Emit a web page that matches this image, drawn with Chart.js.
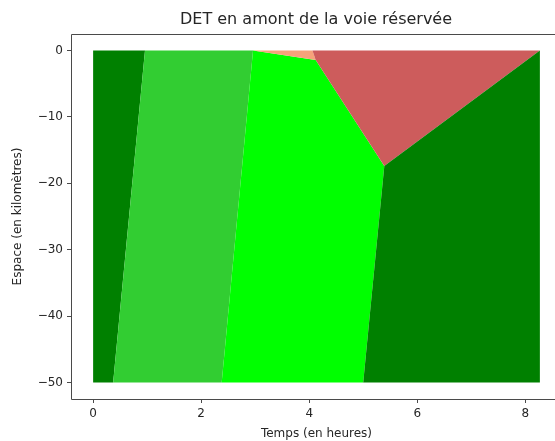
<!DOCTYPE html>
<html>
<head>
<meta charset="utf-8">
<script src="https://cdn.jsdelivr.net/npm/chart.js@4/dist/chart.umd.min.js"></script>
<style>
  html, body { margin: 0; padding: 0; background: #fff; overflow: hidden; }
  #wrap { position: relative; width: 632px; height: 441px; }
</style>
</head>
<body>
<div id="wrap"><canvas id="chart"></canvas></div>
<script>
// tick values
const xTicks = [0, 2, 4, 6, 8];
const yTicks = [0, -10, -20, -30, -40, -50];

// polygons of the diagram (temps in hours, espace in km)
const leftGreenX = [0, 0.96, 0.37, 0];
const leftGreenY = [0, 0, -50, -50];
const limeGreenX = [0.96, 2.96, 2.38, 0.37];
const limeGreenY = [0, 0, -50, -50];
const limeX = [2.96, 4.12, 5.39, 5.0, 2.38];
const limeY = [0, -1.4, -17.4, -50, -50];
const salmonX = [2.96, 4.06, 4.12];
const salmonY = [0, 0, -1.4];
const redX = [4.06, 8.27, 5.39, 4.12];
const redY = [0, 0, -17.4, -1.4];
const rightGreenX = [5.39, 8.27, 8.27, 5.0];
const rightGreenY = [-17.4, 0, -50, -50];

const toPoints = (xs, ys) => xs.map((x, i) => ({ x: x, y: ys[i] }));

const frameColor = "#4a4a4a";
const textColor = "#262626";

function region(xs, ys, color) {
  return {
    data: toPoints(xs, ys),
    backgroundColor: color,
    borderWidth: 0,
    pointRadius: 0,
    showLine: false,
  };
}

// fill each dataset as a closed polygon, using the points placed by the scales
const polygonFill = {
  id: "polygonFill",
  beforeDatasetsDraw(chart) {
    const ctx = chart.ctx;
    const area = chart.chartArea;
    ctx.save();
    ctx.beginPath();
    ctx.rect(area.left, area.top, area.right - area.left, area.bottom - area.top);
    ctx.clip();
    chart.data.datasets.forEach((ds, i) => {
      const pts = chart.getDatasetMeta(i).data;
      ctx.beginPath();
      pts.forEach((p, j) => {
        if (j == 0) ctx.moveTo(p.x, p.y);
        else ctx.lineTo(p.x, p.y);
      });
      ctx.closePath();
      ctx.fillStyle = ds.backgroundColor;
      ctx.fill();
    });
    ctx.restore();
  },
};

// spines: top, left, bottom (the right one falls outside the crop)
const frame = {
  id: "frame",
  afterDraw(chart) {
    const ctx = chart.ctx;
    const a = chart.chartArea;
    const l = Math.round(a.left) + 0.5;
    const t = Math.round(a.top) + 0.5;
    const b = Math.round(a.bottom) + 0.5;
    ctx.save();
    ctx.strokeStyle = frameColor;
    ctx.lineWidth = 1;
    ctx.beginPath();
    ctx.moveTo(a.right, t);
    ctx.lineTo(l, t);
    ctx.lineTo(l, b);
    ctx.lineTo(a.right, b);
    ctx.stroke();
    ctx.restore();
  },
};

const font = { family: "DejaVu Sans", size: 12 };

new Chart(document.getElementById("chart"), {
  type: "line",
  data: {
    datasets: [
      region(leftGreenX, leftGreenY, "#008000"),
      region(limeGreenX, limeGreenY, "#32CD32"),
      region(limeX, limeY, "#00FF00"),
      region(salmonX, salmonY, "#F7A27A"),
      region(redX, redY, "#CD5C5C"),
      region(rightGreenX, rightGreenY, "#008000"),
    ],
  },
  options: {
    responsive: true,
    maintainAspectRatio: false,
    animation: false,
    layout: { padding: 0 },
    plugins: {
      legend: { display: false },
      tooltip: { enabled: false },
      title: {
        display: true,
        text: "DET en amont de la voie réservée",
        color: textColor,
        font: { family: "DejaVu Sans", size: 16, weight: "normal" },
        padding: { top: 10.4, bottom: 4.4 },
      },
    },
    scales: {
      x: {
        type: "linear",
        min: -0.41,
        max: 8.68,
        afterBuildTicks: (s) => { s.ticks = xTicks.map((v) => ({ value: v })); },
        afterFit: (s) => { s.height = 42; },
        grid: { drawOnChartArea: false, drawTicks: true, tickLength: 4, color: frameColor },
        border: { display: false },
        ticks: { color: textColor, font: font, padding: 4, maxRotation: 0 },
        title: {
          display: true,
          text: "Temps (en heures)",
          color: textColor,
          font: font,
          padding: { top: 0, bottom: 0 },
        },
      },
      y: {
        type: "linear",
        min: -52.5,
        max: 2.5,
        afterBuildTicks: (s) => { s.ticks = yTicks.map((v) => ({ value: v })); },
        afterFit: (s) => { s.width = 71; },
        grid: { drawOnChartArea: false, drawTicks: true, tickLength: 4, color: frameColor },
        border: { display: false },
        ticks: {
          color: textColor,
          font: font,
          padding: 4,
          callback: (v) => String(v).replace("-", "\u2212"),
        },
        title: {
          display: true,
          text: "Espace (en kilomètres)",
          color: textColor,
          font: font,
          padding: { top: 11, bottom: 0 },
        },
      },
      // empty right-hand box so the plot ends off-screen like the reference
      yRight: {
        type: "linear",
        position: "right",
        min: -52.5,
        max: 2.5,
        afterFit: (s) => { s.width = 70; },
        grid: { display: false },
        border: { display: false },
        ticks: { display: false },
      },
    },
  },
  plugins: [polygonFill, frame],
});
</script>
</body>
</html>
